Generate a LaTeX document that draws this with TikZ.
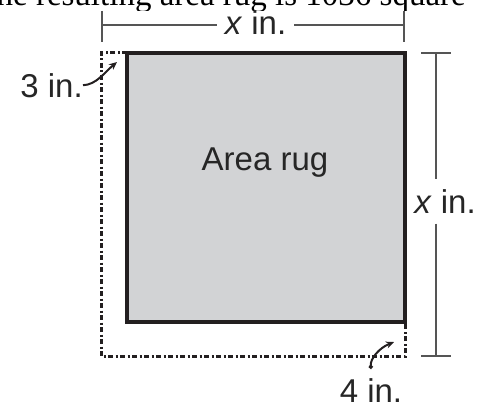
\documentclass[tikz,border=0pt]{standalone}
\usepackage{fontspec}
\setmainfont{Liberation Serif}
\setsansfont{Liberation Sans}
\usetikzlibrary{arrows.meta,calc}

\definecolor{rugline}{HTML}{231F20}
\definecolor{ruggray}{HTML}{D2D3D5}
\definecolor{dimgray}{HTML}{555555}
\definecolor{labelgray}{HTML}{262626}

\begin{document}
\begin{tikzpicture}[
		x=1pt, y=-1pt,
		rugbox/.style={draw=rugline, line width=3.6pt, fill=ruggray, outer sep=0pt},
		border/.style={draw=rugline, line width=3pt, dash pattern=on 5pt off 2.5pt on 2pt off 2.5pt},
		dimline/.style={draw=dimgray, line width=1.8pt},
		lbl/.style={font=\fontsize{33}{36}\selectfont\sffamily, text=labelgray, inner sep=0pt},
		callout/.style={draw=rugline, line width=2pt, -{Stealth[length=8pt,width=7pt]}}
	]
	\useasboundingbox (0,0) rectangle (495,412);
	
	% line of text cut off above the figure
	\begin{scope}
		\clip (0,0) rectangle (495,11);
		\node[anchor=base east, inner sep=0pt, font=\fontsize{33}{36}\selectfont\rmfamily] (cut) at (466,6) {the resulting area rug is 1036 square};
	\end{scope}
	
	% rug and the border round it
	\node[rugbox, minimum width=278pt, minimum height=269pt] (rug) at (266,187.5) {};
	\node[lbl] (name) at (265,163) {Area rug};
	\coordinate (outNW) at (101,53);
	\coordinate (outSE) at (405,356);
	\draw[border] (rug.north west) -- (outNW) -- (outNW |- outSE) -- (outSE) -- (rug.south east);
	
	% top dimension
	\coordinate (topL) at (102,25);
	\coordinate (topR) at (404,25);
	\node[lbl, inner xsep=8pt] (xtop) at (255.5,22.5) {\textit{x} in.};
	\draw[dimline] (topL) -- (topL -| xtop.west);
	\draw[dimline] (xtop.east |- topR) -- (topR);
	\draw[dimline] ([yshift=14pt]topL) -- ([yshift=-17pt]topL);
	\draw[dimline] ([yshift=14pt]topR) -- ([yshift=-17pt]topR);
	
	% right dimension
	\coordinate (rgtT) at (436,53);
	\coordinate (rgtB) at (436,356);
	\node[lbl, inner ysep=10pt] (xrgt) at (445,201.5) {\textit{x} in.};
	\draw[dimline] (rgtT) -- (rgtT |- xrgt.north);
	\draw[dimline] (rgtB |- xrgt.south) -- (rgtB);
	\draw[dimline] ([xshift=-15pt]rgtT) -- ([xshift=15pt]rgtT);
	\draw[dimline] ([xshift=-15pt]rgtB) -- ([xshift=15pt]rgtB);
	
	% widths of the border
	\node[lbl, anchor=base east] (three) at (83,97) {3 in.};
	\coordinate (tipA) at (117,62);
	\draw[callout] (three.east) .. controls (96,85) and (105,72) .. (tipA);
	
	\node[lbl, anchor=base] (four) at (371,402) {4 in.};
	\coordinate (tipB) at (394,342);
	\draw[callout, {Circle[length=4pt]}-{Stealth[length=8pt,width=7pt]}] ([yshift=9pt]four.north) .. controls (370,359) and (379,348) .. (tipB);
\end{tikzpicture}
\end{document}
